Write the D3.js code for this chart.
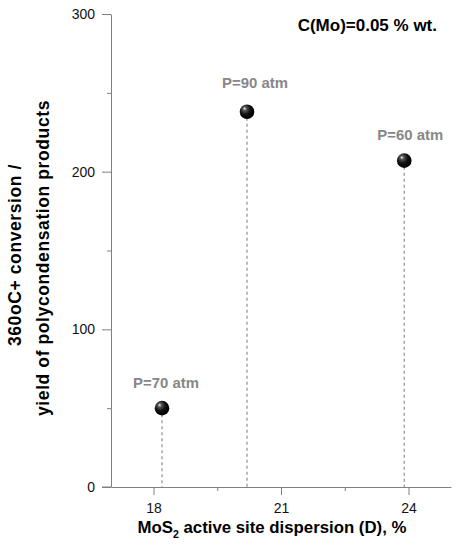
<!DOCTYPE html>
<html><head><meta charset="utf-8">
<script src="https://cdn.jsdelivr.net/npm/d3@7"></script>
<style>body{margin:0;background:#fff;}svg{display:block;font-family:"Liberation Sans",Arial,sans-serif;}</style>
</head><body>
<script>
const dispersion = [18.2, 20.2, 23.9];
const conversion = [50, 238, 207];
const pressureLabels = ["P=70 atm", "P=90 atm", "P=60 atm"];
const xTicks = [18, 21, 24];
const xMinorTicks = [19.5, 22.5];
const yTicks = [0, 100, 200, 300];
const yMinorTicks = [50, 150, 250];

const W = 457, H = 550;
const svg = d3.select("body").append("svg").attr("width", W).attr("height", H);
const x = d3.scaleLinear().domain([17, 25]).range([111, 451]);
const y = d3.scaleLinear().domain([0, 300]).range([487, 14]);
const axisColor = "#808080";

// y axis
svg.append("g").attr("transform", `translate(${x(17)},0)`)
  .call(d3.axisLeft(y).tickValues(yTicks).tickSize(9).tickPadding(7).tickSizeOuter(0));
svg.append("g").attr("transform", `translate(${x(17)},0)`)
  .call(d3.axisLeft(y).tickValues(yMinorTicks).tickSize(4).tickFormat("").tickSizeOuter(0))
  .select(".domain").remove();
// x axis
svg.append("g").attr("transform", `translate(0,${y(0)})`)
  .call(d3.axisBottom(x).tickValues(xTicks).tickSize(8).tickPadding(8).tickSizeOuter(0));
svg.append("g").attr("transform", `translate(0,${y(0)})`)
  .call(d3.axisBottom(x).tickValues(xMinorTicks).tickSize(4).tickFormat("").tickSizeOuter(0))
  .select(".domain").remove();
svg.append("line").attr("x1", x(17) - 9).attr("x2", x(17)).attr("y1", y(0)).attr("y2", y(0)).attr("stroke", axisColor);

svg.selectAll(".domain, .tick line").attr("stroke", axisColor);
svg.selectAll(".tick text").attr("fill", "#111").style("font-size", "14px").style("font-family", "'Liberation Sans',Arial,sans-serif");

// drop lines
svg.selectAll(".drop").data(dispersion).join("line").attr("class", "drop")
  .attr("x1", d => x(d)).attr("x2", d => x(d))
  .attr("y1", (d, i) => y(conversion[i])).attr("y2", y(0))
  .attr("stroke", "#8f8f8f").attr("stroke-width", 1.2).attr("stroke-dasharray", "3,3");

// sphere gradient
const defs = svg.append("defs");
const grad = defs.append("radialGradient").attr("id", "ball").attr("cx", "40%").attr("cy", "35%").attr("r", "60%").attr("fx", "33%").attr("fy", "28%");
grad.append("stop").attr("offset", "0%").attr("stop-color", "#f0f0f0");
grad.append("stop").attr("offset", "22%").attr("stop-color", "#555");
grad.append("stop").attr("offset", "60%").attr("stop-color", "#111");
grad.append("stop").attr("offset", "100%").attr("stop-color", "#000");

svg.selectAll(".pt").data(dispersion).join("circle").attr("class", "pt")
  .attr("cx", d => x(d)).attr("cy", (d, i) => y(conversion[i])).attr("r", 7.3)
  .attr("fill", "url(#ball)");

// point labels
const labDx = [4, 8, 6], labDy = [-20, -24, -21];
svg.selectAll(".plab").data(dispersion).join("text").attr("class", "plab")
  .attr("x", (d, i) => x(d) + labDx[i])
  .attr("y", (d, i) => y(conversion[i]) + labDy[i])
  .attr("text-anchor", "middle").attr("fill", "#878787")
  .style("font-size", "14.9px").style("font-weight", "bold")
  .text((d, i) => pressureLabels[i]);

// annotation
svg.append("text").attr("x", 437).attr("y", 31).attr("text-anchor", "end")
  .style("font-size", "17px").style("font-weight", "bold").attr("fill", "#000")
  .text("C(Mo)=0.05 % wt.");

// x label
const xl = svg.append("text").attr("x", 272).attr("y", 533).attr("text-anchor", "middle")
  .style("font-size", "16.8px").style("font-weight", "bold").attr("fill", "#000");
xl.append("tspan").text("MoS");
xl.append("tspan").attr("dy", 5).style("font-size", "10.5px").text("2");
xl.append("tspan").attr("dy", -5).text(" active site dispersion (D), %");

// y label
const yl = svg.append("text").attr("transform", "translate(0,255) rotate(-90)")
  .attr("text-anchor", "middle").style("font-size", "17.5px").style("font-weight", "bold")
  .style("letter-spacing", "0.6px").attr("fill", "#000");
yl.append("tspan").attr("x", 0).attr("y", 21).text("360oC+ conversion /");
yl.append("tspan").attr("x", -3).attr("y", 49).text("yield of polycondensation products");
</script>
</body></html>
